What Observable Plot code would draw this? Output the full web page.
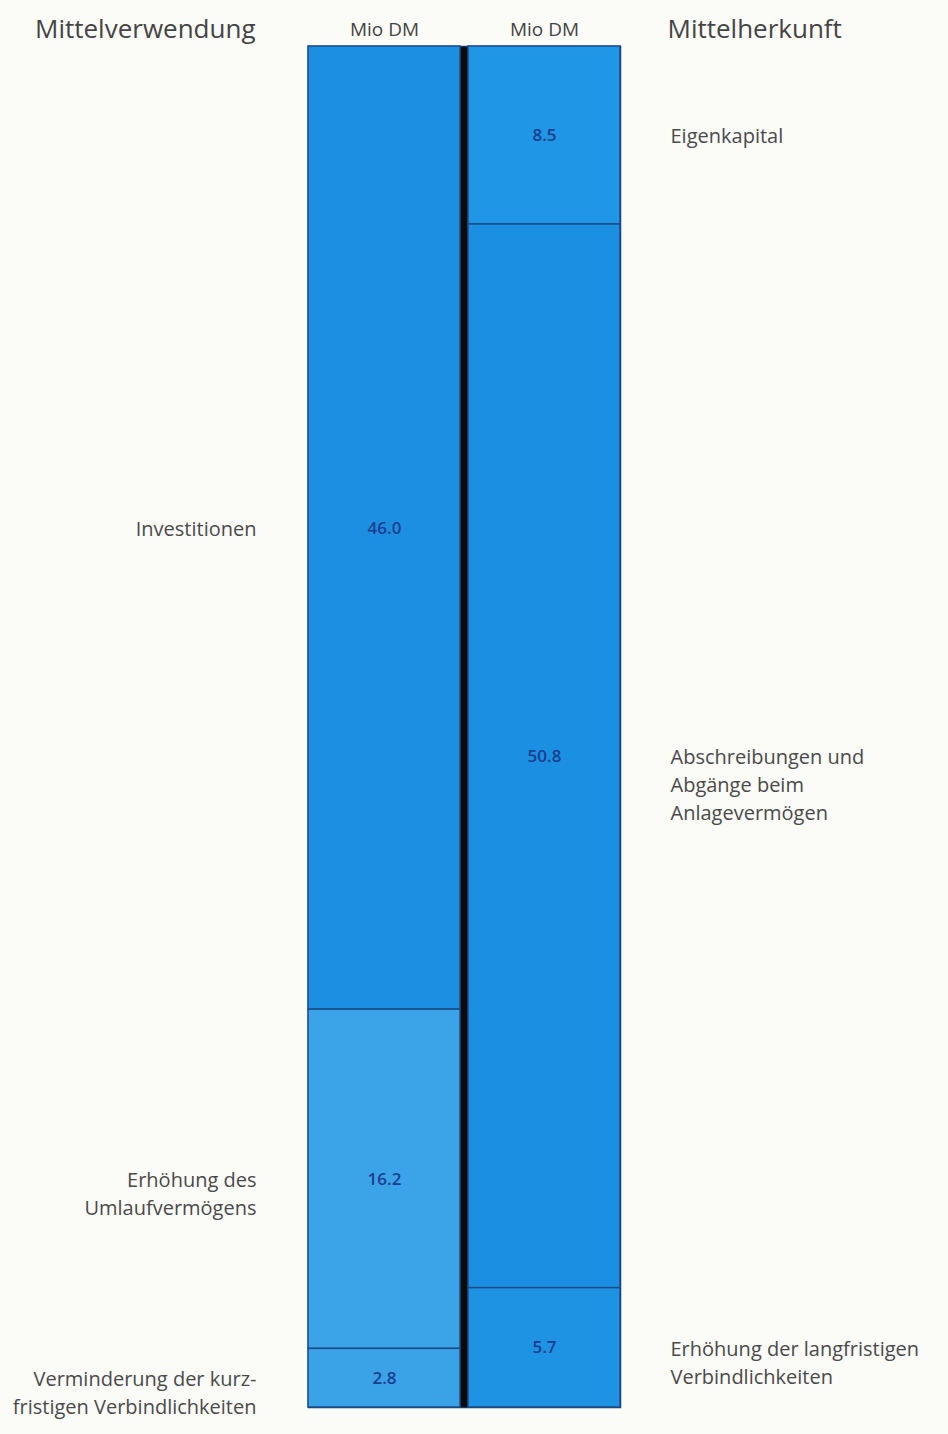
<!DOCTYPE html>
<html>
<head>
<meta charset="utf-8">
<script src="https://cdn.jsdelivr.net/npm/d3@7"></script>
<script src="https://cdn.jsdelivr.net/npm/@observablehq/plot@0.6"></script>
<style>
  html, body { margin: 0; padding: 0; background: #fbfbf8; }
  #chart svg { display: block; background: #fbfbf8; }
</style>
</head>
<body>
<div id="chart"></div>
<script>
// ---- data ----
const sides = ["Mittelverwendung", "Mittelherkunft"];
const unitLabel = "Mio DM";

const useLabels = ["Investitionen", "Erhöhung des\nUmlaufvermögens", "Verminderung der kurz-\nfristigen Verbindlichkeiten"];
const useValues = [46.0, 16.2, 2.8];
const useColors = ["#1c8fe2", "#3ba4e9", "#3aa3e7"];

const srcLabels = ["Eigenkapital", "Abschreibungen und\nAbgänge beim\nAnlagevermögen", "Erhöhung der langfristigen\nVerbindlichkeiten"];
const srcValues = [8.5, 50.8, 5.7];
const srcColors = ["#1f97e6", "#1b90e2", "#1e93e4"];

// ---- build rows ----
function build(side, labels, values, colors) {
  let acc = 0;
  return labels.map((label, i) => {
    const y1 = acc, y2 = acc + values[i];
    acc = y2;
    return {side, label, value: values[i], y1, y2, mid: (y1 + y2) / 2, color: colors[i]};
  });
}
const rows = [
  ...build(sides[0], useLabels, useValues, useColors),
  ...build(sides[1], srcLabels, srcValues, srcColors)
];
const total = d3.max(rows, d => d.y2);
const fmt = d3.format(".1f");
const labelFont = "Open Sans, Lato, sans-serif";

const chart = Plot.plot({
  width: 948,
  height: 1434,
  marginTop: 46,
  marginBottom: 27,
  marginLeft: 308,
  marginRight: 328,
  style: {background: "#fbfbf8", fontFamily: labelFont},
  x: {domain: sides, axis: null, paddingInner: 0.05, paddingOuter: 0},
  y: {domain: [0, total], reverse: true, axis: null},
  color: {type: "identity"},
  marks: [
    Plot.frame({fill: "#0a0a0a", stroke: "#1a3560", strokeWidth: 1.5}),
    Plot.rectY(rows, {x: "side", y1: "y1", y2: "y2", fill: "color", stroke: "#1d4c88", strokeWidth: 1.5}),
    // values inside bars
    Plot.text(rows, {x: "side", y: "mid", text: d => fmt(d.value), fill: "#1c3d8f", fontSize: 17, fontWeight: 600}),
    // left labels
    Plot.text(rows.filter(d => d.side === sides[0]), {
      y: "mid", text: "label", frameAnchor: "left", textAnchor: "end", dx: -52, dy: -12,
      lineAnchor: "top", lineHeight: 1.4, fontSize: 20, fill: "#4a4a4a"
    }),
    // right labels
    Plot.text(rows.filter(d => d.side === sides[1]), {
      y: "mid", text: "label", frameAnchor: "right", textAnchor: "start", dx: 50, dy: -12,
      lineAnchor: "top", lineHeight: 1.4, fontSize: 20, fill: "#4a4a4a"
    }),
    // column unit headers
    Plot.text(sides, {x: d => d, text: () => unitLabel, frameAnchor: "top", dy: -24, fontSize: 19, fill: "#444"}),
    // side titles
    Plot.text([sides[0]], {text: d => d, frameAnchor: "top-left", textAnchor: "end", dx: -53, dy: -27, fontSize: 26, fill: "#444"}),
    Plot.text([sides[1]], {text: d => d, frameAnchor: "top-right", textAnchor: "start", dx: 47, dy: -27, fontSize: 26, fill: "#444"})
  ]
});
document.getElementById("chart").append(chart);
</script>
</body>
</html>
